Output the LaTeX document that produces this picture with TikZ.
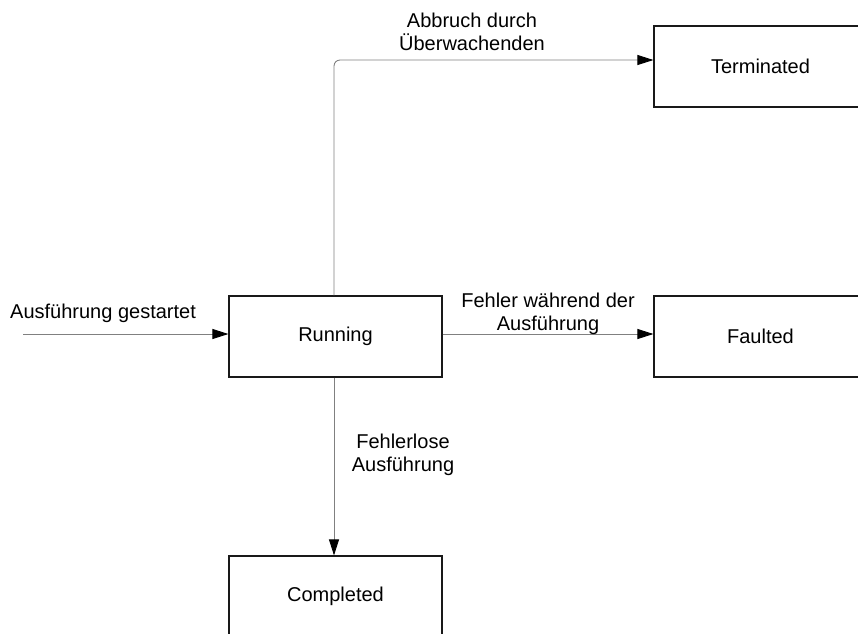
\documentclass[tikz,border=0pt]{standalone}
\usepackage{fontspec}
\setmainfont{Liberation Sans}
\usetikzlibrary{arrows.meta}
\newcommand{\diafont}{\fontsize{20pt}{23pt}\selectfont}
\begin{document}
\begin{tikzpicture}[x=1pt,y=-1pt,
  state/.style={draw=black!90, line width=1.2pt, minimum width=213pt,
    minimum height=81pt, inner sep=0pt, font=\diafont},
  conn/.style={draw=black!50, line width=0.9pt,
    -{Triangle[length=16pt,width=10pt,black]}},
  lbl/.style={inner sep=0pt, align=center, font=\diafont}]
\useasboundingbox (0,0) rectangle (858,633);
\clip (0,0) rectangle (858,633);

% states
\node[state] (run)   at (335.5,336.5) {Running};
\node[state] (term)  at (760.5,66.5)  {Terminated};
\node[state] (fault) at (760.5,336.5) {Faulted};
\node[state] (comp)  at (335.5,596.5) {Completed};

% transitions
\coordinate (start) at (23,334);
\coordinate (up) at ([xshift=-1.5pt]run.north);
\coordinate (tin) at ([yshift=6.5pt]term.west);
\draw[conn] (start) -- (run.west |- start);
\draw[conn] (run.east |- start) -- (fault.west |- start);
\draw[conn, rounded corners=6pt] (up) -- (up |- tin) -- (tin);
\draw[conn] ([xshift=-1.5pt]run.south) -- ([xshift=-1.5pt]comp.north);

% transition labels (base = baseline of the last line)
\node[lbl, anchor=base west] (lstart) at (10,318) {Ausführung gestartet};
\node[lbl, anchor=base] (labort) at (472,50) {Abbruch durch\\Überwachenden};
\node[lbl, anchor=base] (lfault) at (548,330) {Fehler während der\\Ausführung};
\node[lbl, anchor=base] (lok) at (403,471) {Fehlerlose\\Ausführung};
\end{tikzpicture}
\end{document}
